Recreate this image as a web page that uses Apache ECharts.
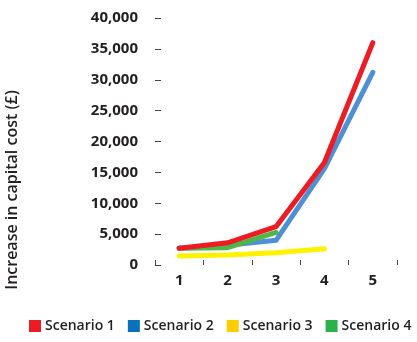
<!DOCTYPE html>
<html>
<head>
<meta charset="utf-8">
<script src="https://cdn.jsdelivr.net/npm/echarts@6/dist/echarts.min.js"></script>
<style>
html,body{margin:0;padding:0;background:#fff;}
#c{width:417px;height:342px;}
</style>
</head>
<body>
<div id="c"></div>
<script>
var categories = ['1', '2', '3', '4', '5'];
var scenario1 = [2700, 3600, 6200, 16600, 36000];
var scenario2 = [2700, 3200, 4000, 15600, 31200];
var scenario3 = [1450, 1600, 2000, 2650, null];
var scenario4 = [2700, 2800, 5300, null, null];
var yTicks = [0, 5000, 10000, 15000, 20000, 25000, 30000, 35000, 40000];
var yTickLabels = ['0', '5,000', '10,000', '15,000', '20,000', '25,000', '30,000', '35,000', '40,000'];
var seriesNames = ['Scenario 1', 'Scenario 2', 'Scenario 3', 'Scenario 4'];
var yAxisTitle = 'Increase in capital cost (£)';

var txt = '#231f20';
var font = '"Open Sans", sans-serif';
var chart = echarts.init(document.getElementById('c'), null, {renderer: 'canvas'});

function mk(name, data, lineColor, iconColor, z) {
  return {
    name: name, type: 'line', data: data, z: z,
    symbol: 'none', smooth: false, connectNulls: false,
    lineStyle: {color: lineColor, width: 5, cap: 'round', join: 'round'},
    itemStyle: {color: iconColor}
  };
}

chart.setOption({
  animation: false,
  backgroundColor: '#fff',
  grid: {left: 155, right: 20, top: 18, bottom: 77, containLabel: false},
  legend: {
    left: 29, top: 319, width: 388, padding: 0, icon: 'rect', itemWidth: 12, itemHeight: 12, itemGap: 13,
    data: seriesNames,
    textStyle: {color: txt, fontFamily: font, fontWeight: 600, fontSize: 14, padding: [0, 0, 0, -1]}
  },
  graphic: [{
    type: 'text', x: 12, y: 190, rotation: Math.PI / 2,
    style: {text: yAxisTitle, fill: txt, font: '600 16px "Open Sans", sans-serif', align: 'center', verticalAlign: 'middle'}
  }],
  xAxis: {
    type: 'category', data: categories, boundaryGap: true,
    axisLine: {show: false},
    axisTick: {show: true, inside: true, length: 5, lineStyle: {color: '#444', width: 1}},
    axisLabel: {color: txt, fontFamily: font, fontWeight: 700, fontSize: 15, margin: 8}
  },
  yAxis: {
    type: 'value', min: 0, max: 40000, interval: 5000,
    axisLine: {show: false},
    splitLine: {show: false},
    axisTick: {show: true, inside: true, length: 6, lineStyle: {color: '#444', width: 1}},
    axisLabel: {
      color: txt, fontFamily: font, fontWeight: 700, fontSize: 15, margin: 17,
      formatter: function (v) { var i = yTicks.indexOf(v); return i >= 0 ? yTickLabels[i] : v; }
    }
  },
  series: [
    mk(seriesNames[0], scenario1, '#ed1c24', '#ed1c24', 5),
    mk(seriesNames[1], scenario2, '#4f8fd3', '#0a72bc', 3),
    mk(seriesNames[2], scenario3, '#fff200', '#ffcc00', 2),
    mk(seriesNames[3], scenario4, '#4db848', '#2bb24b', 4)
  ]
});
</script>
</body>
</html>
